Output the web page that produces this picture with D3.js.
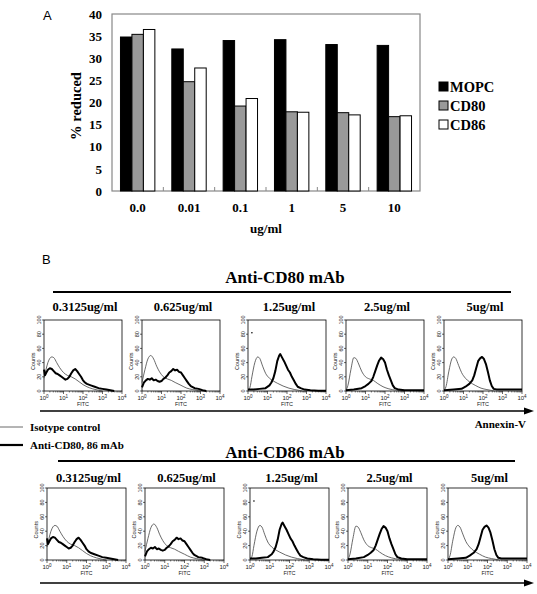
<!DOCTYPE html>
<html>
<head>
<meta charset="utf-8">
<script src="https://cdn.jsdelivr.net/npm/d3@7"></script>
<style>
  body { margin: 0; background: #fff; }
  svg { display: block; }
  .serif { font-family: "Liberation Serif", "Times New Roman", serif; font-weight: bold; }
  .sans { font-family: "Liberation Sans", Arial, sans-serif; }
</style>
</head>
<body>
<script>
// Panel A data
const categories = ["0.0", "0.01", "0.1", "1", "5", "10"];
const mopc = [34.8, 32.1, 34.0, 34.2, 33.1, 32.9];
const cd80 = [35.4, 24.7, 19.2, 17.9, 17.7, 16.8];
const cd86 = [36.5, 27.8, 20.9, 17.8, 17.2, 17.0];
const yTicks = [0, 5, 10, 15, 20, 25, 30, 35, 40];
const seriesNames = ["MOPC", "CD80", "CD86"];

// Panel B data: [log10 FITC, counts]
const doses = ["0.3125ug/ml", "0.625ug/ml", "1.25ug/ml", "2.5ug/ml", "5ug/ml"];
const countTicks = [0, 20, 40, 60, 80, 100];
const decades = [0, 1, 2, 3, 4];

const iso1 = [[0,18],[0.1,30],[0.2,40],[0.3,46],[0.4,48],[0.5,47],[0.65,40],[0.8,33],[1.0,26],[1.2,22],[1.4,20],[1.6,17],[1.8,13],[2.0,9],[2.2,6],[2.5,3],[2.8,1],[3.0,0]];
const iso2 = [[0,12],[0.15,30],[0.3,45],[0.45,50],[0.6,45],[0.75,35],[0.9,27],[1.1,20],[1.3,17],[1.5,15],[1.7,12],[2.0,8],[2.3,4],[2.6,2],[3.0,0]];
const iso3 = [[0,1],[0.1,5],[0.2,20],[0.35,40],[0.5,48],[0.6,46],[0.75,35],[0.9,25],[1.1,18],[1.3,14],[1.5,11],[1.8,7],[2.1,4],[2.4,2],[2.8,0]];
const iso4 = [[0,1],[0.1,8],[0.25,30],[0.4,47],[0.5,46],[0.65,38],[0.8,28],[1.0,20],[1.2,17],[1.4,15],[1.6,11],[1.9,6],[2.2,3],[2.6,1],[3.0,0]];
const iso5 = [[0,1],[0.1,6],[0.25,28],[0.4,45],[0.5,48],[0.6,46],[0.75,36],[0.9,26],[1.1,18],[1.3,13],[1.6,8],[1.9,4],[2.2,2],[2.6,0]];

const ab1 = [[0,30],[0.05,22],[0.12,26],[0.2,30],[0.3,32],[0.4,31],[0.5,28],[0.6,25],[0.7,24],[0.8,22],[0.9,20],[1.0,18],[1.1,16],[1.2,17],[1.3,20],[1.4,25],[1.5,29],[1.6,31],[1.7,28],[1.8,24],[1.9,20],[2.0,15],[2.1,12],[2.2,10],[2.4,8],[2.6,6],[2.8,4],[3.0,3],[3.2,2],[3.4,1],[3.6,0]];
const ab2 = [[0,5],[0.1,12],[0.2,15],[0.3,17],[0.4,16],[0.5,18],[0.6,15],[0.7,16],[0.8,14],[0.9,13],[1.0,14],[1.1,17],[1.2,19],[1.3,22],[1.4,26],[1.5,28],[1.6,31],[1.7,29],[1.8,30],[1.9,27],[2.0,26],[2.1,22],[2.2,18],[2.3,14],[2.4,10],[2.5,7],[2.7,4],[2.9,3],[3.1,1],[3.3,0]];
const ab3 = [[0,2],[0.3,2],[0.6,3],[0.9,4],[1.1,8],[1.2,12],[1.3,18],[1.4,28],[1.5,42],[1.6,50],[1.65,52],[1.75,47],[1.85,42],[1.95,36],[2.05,30],[2.15,26],[2.25,20],[2.35,15],[2.45,10],[2.55,6],[2.7,4],[2.9,2],[3.2,1],[3.6,0.5],[4,0.5]];
const ab4 = [[0,1],[0.4,2],[0.8,4],[1.0,7],[1.15,10],[1.3,14],[1.4,20],[1.5,28],[1.6,36],[1.7,43],[1.8,47],[1.9,45],[2.0,40],[2.1,30],[2.2,22],[2.3,15],[2.4,8],[2.5,4],[2.7,2],[3.0,1],[3.5,1],[4,1]];
const ab5 = [[0,1],[0.5,2],[0.9,3],[1.1,6],[1.3,10],[1.45,15],[1.55,22],[1.65,32],[1.75,42],[1.85,46],[1.95,48],[2.05,45],[2.15,38],[2.25,27],[2.35,15],[2.45,7],[2.55,3],[2.7,2],[3.0,2],[3.5,2],[4,2]];

const isoCurves = [iso1, iso2, iso3, iso4, iso5];
const abCurves = [ab1, ab2, ab3, ab4, ab5];

const width = 537, height = 594;

const svg = d3.select("body").append("svg")
    .attr("width", width)
    .attr("height", height);

// ---------- Panel A ----------
const plot = {left: 112, right: 420, top: 14, bottom: 191};

const x = d3.scaleBand()
    .domain(categories)
    .range([plot.left, plot.right])
    .paddingInner(0.33)
    .paddingOuter(0.165);

const xs = d3.scaleBand()
    .domain(seriesNames)
    .range([0, x.bandwidth()]);

const y = d3.scaleLinear()
    .domain([0, 40])
    .range([plot.bottom, plot.top]);

const fills = {MOPC: "#000", CD80: "#999", CD86: "#fff"};
const series = {MOPC: mopc, CD80: cd80, CD86: cd86};

svg.append("text").attr("class", "sans")
    .attr("x", 43).attr("y", 20)
    .attr("font-size", 13)
    .text("A");

svg.append("rect")
    .attr("x", plot.left).attr("y", plot.top)
    .attr("width", plot.right - plot.left)
    .attr("height", plot.bottom - plot.top)
    .attr("fill", "none")
    .attr("stroke", "#888")
    .attr("stroke-width", 1.2);

// small ticks between groups
const step = (plot.right - plot.left) / categories.length;
svg.append("g")
  .selectAll("line")
  .data(d3.range(1, categories.length))
  .enter().append("line")
    .attr("x1", d => plot.left + d * step)
    .attr("x2", d => plot.left + d * step)
    .attr("y1", plot.bottom)
    .attr("y2", plot.bottom - 4)
    .attr("stroke", "#888");

const yAxis = d3.axisLeft(y).tickValues(yTicks).tickSize(0).tickPadding(10);
svg.append("g")
    .attr("transform", "translate(" + plot.left + ",0)")
    .call(yAxis)
    .call(g => g.select(".domain").remove())
    .selectAll("text")
    .attr("font-family", "Liberation Serif, serif")
    .attr("font-weight", "bold")
    .attr("font-size", 13)
    .attr("fill", "#000");

const xAxis = d3.axisBottom(x).tickSize(0).tickPadding(12);
svg.append("g")
    .attr("transform", "translate(0," + plot.bottom + ")")
    .call(xAxis)
    .call(g => g.select(".domain").remove())
    .selectAll("text")
    .attr("font-family", "Liberation Serif, serif")
    .attr("font-weight", "bold")
    .attr("font-size", 13)
    .attr("fill", "#000");

svg.append("text").attr("class", "serif")
    .attr("x", 266).attr("y", 233)
    .attr("text-anchor", "middle")
    .attr("font-size", 13)
    .text("ug/ml");

svg.append("text").attr("class", "serif")
    .attr("transform", "translate(81,106) rotate(-90)")
    .attr("text-anchor", "middle")
    .attr("font-size", 14.5)
    .text("% reduced");

const bars = svg.append("g");
seriesNames.forEach(function (s) {
  bars.selectAll(".bar-" + s)
    .data(series[s])
    .enter().append("rect")
    .attr("x", (d, i) => x(categories[i]) + xs(s))
    .attr("y", d => y(d))
    .attr("width", xs.bandwidth())
    .attr("height", d => plot.bottom - y(d))
    .attr("fill", fills[s])
    .attr("stroke", "#000")
    .attr("stroke-width", 1);
});

const legend = svg.append("g").attr("transform", "translate(439,0)");
seriesNames.forEach(function (s, i) {
  const ly = 87 + i * 19;
  legend.append("rect")
    .attr("x", 0).attr("y", ly - 5)
    .attr("width", 9).attr("height", 9)
    .attr("fill", fills[s])
    .attr("stroke", "#000");
  legend.append("text").attr("class", "serif")
    .attr("x", 11).attr("y", ly + 5)
    .attr("font-size", 14.5)
    .text(s);
});

// ---------- Panel B ----------
svg.append("text").attr("class", "sans")
    .attr("x", 42).attr("y", 264)
    .attr("font-size", 13)
    .text("B");

const line = d3.line()
    .x(d => d[0])
    .y(d => d[1]);

function drawPanel(g, x0, y0, w, h, iso, ab, dot) {
  const px = d3.scaleLinear().domain([0, 4]).range([x0, x0 + w]);
  const py = d3.scaleLinear().domain([0, 100]).range([y0 + h, y0]);

  g.append("rect")
    .attr("x", x0).attr("y", y0)
    .attr("width", w).attr("height", h)
    .attr("fill", "none")
    .attr("stroke", "#000")
    .attr("stroke-width", 0.8);

  // y ticks
  const ya = g.append("g");
  ya.selectAll("line")
    .data(countTicks)
    .enter().append("line")
    .attr("x1", x0 - 2).attr("x2", x0)
    .attr("y1", d => py(d)).attr("y2", d => py(d))
    .attr("stroke", "#000").attr("stroke-width", 0.6);
  ya.selectAll("text")
    .data(countTicks)
    .enter().append("text")
    .attr("class", "sans")
    .attr("transform", d => "translate(" + (x0 - 3) + "," + py(d) + ") rotate(-90)")
    .attr("text-anchor", "middle")
    .attr("font-size", 5.5)
    .attr("fill", "#222")
    .text(d => d);
  g.append("text").attr("class", "sans")
    .attr("transform", "translate(" + (x0 - 9.5) + "," + py(42) + ") rotate(-90)")
    .attr("text-anchor", "middle")
    .attr("font-size", 5.5)
    .attr("fill", "#222")
    .text("Counts");

  // x ticks (log decades + minor)
  const minor = [];
  decades.slice(0, 4).forEach(dd => {
    for (let k = 2; k < 10; k++) minor.push(dd + Math.log10(k));
  });
  g.append("g").selectAll("line")
    .data(minor)
    .enter().append("line")
    .attr("x1", d => px(d)).attr("x2", d => px(d))
    .attr("y1", y0 + h).attr("y2", y0 + h + 1.5)
    .attr("stroke", "#000").attr("stroke-width", 0.5);
  g.append("g").selectAll("line")
    .data(decades)
    .enter().append("line")
    .attr("x1", d => px(d)).attr("x2", d => px(d))
    .attr("y1", y0 + h).attr("y2", y0 + h + 3)
    .attr("stroke", "#000").attr("stroke-width", 0.6);
  const xl = g.append("g").selectAll("text")
    .data(decades)
    .enter().append("text")
    .attr("class", "sans")
    .attr("x", d => px(d))
    .attr("y", y0 + h + 9)
    .attr("text-anchor", "middle")
    .attr("font-size", 6)
    .attr("fill", "#222");
  xl.append("tspan").text("10");
  xl.append("tspan").attr("dy", -2.5).attr("font-size", 4.5).text(d => d);
  g.append("text").attr("class", "sans")
    .attr("x", px(2)).attr("y", y0 + h + 15)
    .attr("text-anchor", "middle")
    .attr("font-size", 5.5)
    .attr("fill", "#222")
    .text("FITC");

  // curves
  g.append("path")
    .datum(iso.map(d => [px(d[0]), py(d[1])]))
    .attr("fill", "none")
    .attr("stroke", "#444")
    .attr("stroke-width", 0.8)
    .attr("d", line.curve(d3.curveMonotoneX));
  g.append("path")
    .datum(ab.map(d => [px(d[0]), py(d[1])]))
    .attr("fill", "none")
    .attr("stroke", "#000")
    .attr("stroke-width", 2)
    .attr("stroke-linejoin", "round")
    .attr("d", line.curve(d3.curveLinear));

  if (dot) {
    g.append("circle")
      .attr("cx", px(dot[0])).attr("cy", py(dot[1]))
      .attr("r", 0.8).attr("fill", "#000");
  }
}

function drawRow(title, titleY, ruleY, rule, labelY, boxY, boxH, lefts, boxW, arrowY) {
  const g = svg.append("g");
  g.append("text").attr("class", "serif")
    .attr("x", 285).attr("y", titleY)
    .attr("text-anchor", "middle")
    .attr("font-size", 17)
    .text(title);
  g.append("line")
    .attr("x1", rule[0]).attr("x2", rule[1])
    .attr("y1", ruleY).attr("y2", ruleY)
    .attr("stroke", "#000").attr("stroke-width", 2);
  doses.forEach(function (dose, i) {
    g.append("text").attr("class", "serif")
      .attr("x", lefts[i] + boxW / 2 + 2).attr("y", labelY)
      .attr("text-anchor", "middle")
      .attr("font-size", 12.5)
      .text(dose);
    drawPanel(g, lefts[i], boxY, boxW, boxH, isoCurves[i], abCurves[i], i === 2 ? [0.2, 82] : null);
  });
  g.append("line")
    .attr("x1", 40).attr("x2", 526)
    .attr("y1", arrowY).attr("y2", arrowY)
    .attr("stroke", "#000").attr("stroke-width", 1.5);
  g.append("path")
    .attr("d", "M" + 534 + "," + arrowY + "L" + 524 + "," + (arrowY - 3.5) + "L" + 524 + "," + (arrowY + 3.5) + "Z")
    .attr("fill", "#000");
}

drawRow("Anti-CD80 mAb", 283, 292, [53, 511], 311, 320, 71, [44, 142, 248, 346, 444], 78, 411);
drawRow("Anti-CD86 mAb", 458, 461, [58, 515], 482, 488, 72, [47, 145, 250, 348, 448], 79, 583);

// legend for histograms
svg.append("line")
    .attr("x1", 0).attr("x2", 23).attr("y1", 427).attr("y2", 427)
    .attr("stroke", "#444").attr("stroke-width", 0.8);
svg.append("line")
    .attr("x1", 0).attr("x2", 23).attr("y1", 445).attr("y2", 445)
    .attr("stroke", "#000").attr("stroke-width", 2.2);
svg.append("text").attr("class", "serif")
    .attr("x", 30).attr("y", 431)
    .attr("font-size", 11)
    .text("Isotype control");
svg.append("text").attr("class", "serif")
    .attr("x", 30).attr("y", 449)
    .attr("font-size", 11)
    .text("Anti-CD80, 86 mAb");
svg.append("text").attr("class", "serif")
    .attr("x", 526).attr("y", 428)
    .attr("text-anchor", "end")
    .attr("font-size", 11)
    .text("Annexin-V");
</script>
</body>
</html>
